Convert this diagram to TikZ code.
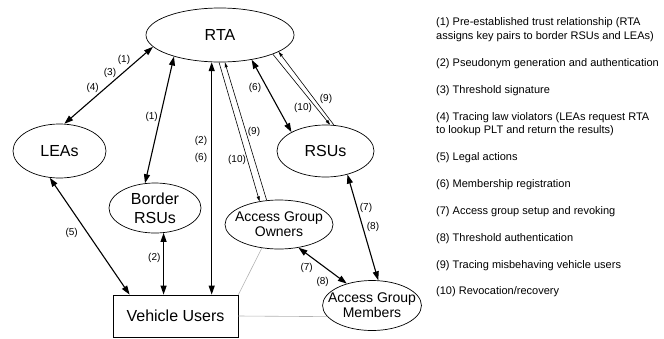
\documentclass[tikz,border=0pt]{standalone}
\usepackage{fontspec}
\setmainfont{Liberation Sans}
\usetikzlibrary{shapes.geometric,arrows.meta}

\tikzset{
  party/.style={ellipse, draw, line width=0.7pt, inner sep=0pt, align=center, font=\fontsize{16}{19.3}\selectfont},
  grp/.style={party, font=\fontsize{14}{15}\selectfont},
  link/.style={line width=1.1pt, {Triangle[length=9pt,width=6pt]}-{Triangle[length=9pt,width=6pt]}},
  oneway/.style={line width=0.6pt, -{Triangle[length=5pt,width=3pt]}},
  loose/.style={draw=gray!60, line width=0.6pt},
  num/.style={font=\fontsize{10}{12}\selectfont, inner sep=0pt},
  legend/.style={anchor=west, align=left, inner sep=0pt, font=\fontsize{11}{13.5}\selectfont}
}

\begin{document}
\begin{tikzpicture}[x=1pt,y=-1pt]
\useasboundingbox (0,0) rectangle (664,338);

% parties
\node[party, minimum width=148pt, minimum height=54pt] (rta) at (220,35) {RTA};
\node[party, minimum width=93pt, minimum height=54pt] (leas) at (59.5,151) {LEAs};
\node[party, minimum width=92pt, minimum height=50pt] (border) at (155,208) {Border\\RSUs};
\node[party, minimum width=97pt, minimum height=52pt] (rsus) at (325.5,151) {RSUs};
\node[grp, inner xsep=-6pt, minimum width=108pt, minimum height=49pt] (owners) at (279,224.5) {Access Group\\Owners};
\node[grp, inner xsep=-9pt, minimum width=98pt, minimum height=50pt] (members) at (372,305.5) {Access Group\\Members};
\node[draw, line width=0.8pt, minimum width=125pt, minimum height=42pt, inner sep=0pt,
      font=\fontsize{16}{19}\selectfont] (vu) at (175.5,316) {Vehicle Users};

% links
\draw[link] (rta.-170) -- (leas.80);
\draw[link] (rta.-155) -- (border.112);
\draw[link] (rta.-107) -- (rta.-107 |- vu.north);
\draw[link] (border.-71) -- (border.-71 |- vu.north);
\draw[link] (leas.-110) -- (vu.155);
\draw[oneway] (rta.-92) -- (owners.130);
\draw[oneway] (owners.117) -- (rta.-80);
\draw[link] (rta.-38) -- (rsus.151);
\draw[oneway] (rta.-20) -- (rsus.80);
\draw[oneway] (rsus.72) -- (rta.-16);
\draw[link] (rsus.-47) -- (members.76);
\draw[link] (owners.-50) -- (members.139);
\draw[loose] (owners.-126) -- (vu.north east);
\draw[loose] (vu.east) -- (members.-166);

% step numbers
\node[num] (n1a) at (124,60) {(1)};
\node[num] (n3) at (110,72.7) {(3)};
\node[num] (n4) at (92.7,88.3) {(4)};
\node[num] (n1b) at (151.7,116.7) {(1)};
\node[num] (n2a) at (201,141) {(2)};
\node[num] (n6a) at (201,158) {(6)};
\node[num] (n2b) at (154.3,258.3) {(2)};
\node[num] (n5) at (71.7,233.3) {(5)};
\node[num] (n6b) at (255,88) {(6)};
\node[num] (n9a) at (254,132) {(9)};
\node[num] (n10a) at (237,160) {(10)};
\node[num] (n10b) at (303,108) {(10)};
\node[num] (n9b) at (326,99) {(9)};
\node[num] (n7a) at (366,208) {(7)};
\node[num] (n8a) at (373,227) {(8)};
\node[num] (n7b) at (306.7,268.3) {(7)};
\node[num] (n8b) at (322.7,281.7) {(8)};

% legend
\node[legend] (leg1) at (436,29.8) {(1) Pre-established trust relationship (RTA\\assigns key pairs to border RSUs and LEAs)};
\node[legend] (leg2) at (436,63.4) {(2) Pseudonym generation and authentication};
\node[legend] (leg3) at (436,90.3) {(3) Threshold signature};
\node[legend] (leg4) at (436,124) {(4) Tracing law violators (LEAs request RTA\\to lookup PLT and return the results)};
\node[legend] (leg5) at (436,157.6) {(5) Legal actions};
\node[legend] (leg6) at (436,184.5) {(6) Membership registration};
\node[legend] (leg7) at (436,211.4) {(7) Access group setup and revoking};
\node[legend] (leg8) at (436,238.3) {(8) Threshold authentication};
\node[legend] (leg9) at (436,265.2) {(9) Tracing misbehaving vehicle users};
\node[legend] (leg10) at (436,292.1) {(10) Revocation/recovery};
\end{tikzpicture}
\end{document}
